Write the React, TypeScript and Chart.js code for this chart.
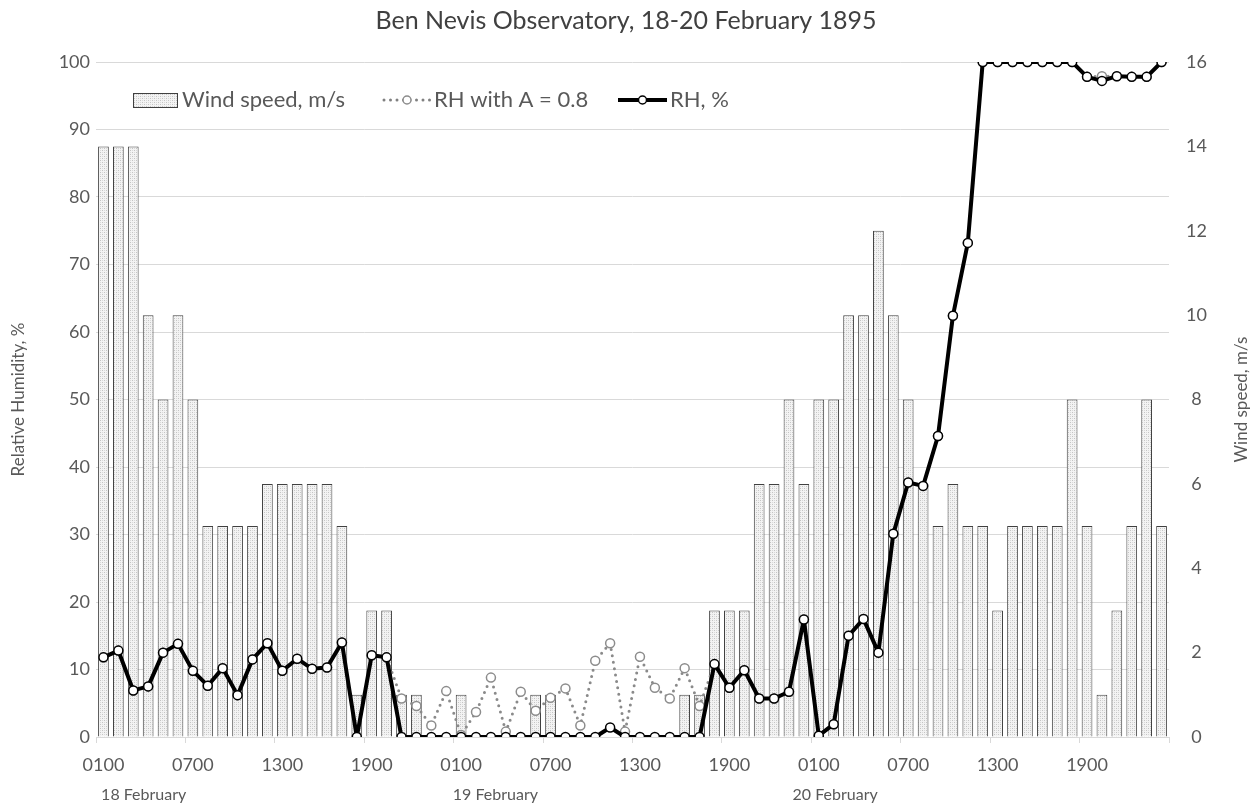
import React, { useEffect, useRef } from 'react';
import { Chart, registerables } from 'chart.js';

Chart.register(...registerables);

const TITLE = 'Ben Nevis Observatory, 18-20 February 1895';
const LEFT_TITLE = 'Relative Humidity, %';
const RIGHT_TITLE = 'Wind speed, m/s';

const HOURS = [
  '0100', '0200', '0300', '0400', '0500', '0600', '0700', '0800', '0900', '1000', '1100', '1200',
  '1300', '1400', '1500', '1600', '1700', '1800', '1900', '2000', '2100', '2200', '2300', '2400',
];
const CATEGORIES = [...HOURS, ...HOURS, ...HOURS];
const DAY_LABELS = ['18 February', '19 February', '20 February'];

const WIND_LABEL = 'Wind speed, m/s';
const RH_A_LABEL = 'RH with A = 0.8';
const RH_LABEL = 'RH, %';

// wind speed, m/s (right axis)
const WIND = [
  14, 14, 14, 10, 8, 10, 8, 5, 5, 5, 5, 6, 6, 6, 6, 6, 5, 1, 3, 3, 1, 1, 0, 0,
  1, 0, 0, 0, 0, 1, 1, 0, 0, 0, 0, 0, 0, 0, 0, 1, 1, 3, 3, 3, 6, 6, 8, 6,
  8, 8, 10, 10, 12, 10, 8, 6, 5, 6, 5, 5, 3, 5, 5, 5, 5, 8, 5, 1, 3, 5, 8, 5,
];

// relative humidity, % (left axis)
const RH = [
  11.8, 12.8, 6.9, 7.5, 12.5, 13.8, 9.8, 7.6, 10.2, 6.2, 11.5, 13.9, 9.8, 11.6, 10.1, 10.3, 14.0, 0, 12.1, 11.8, 0, 0, 0, 0,
  0, 0, 0, 0, 0, 0, 0, 0, 0, 0, 1.4, 0, 0, 0, 0, 0, 0, 10.8, 7.3, 9.9, 5.7, 5.7, 6.7, 17.4,
  0.2, 1.9, 15.0, 17.5, 12.5, 30.1, 37.7, 37.2, 44.6, 62.4, 73.2, 100, 100, 100, 100, 100, 100, 100, 97.8, 97.2, 97.9, 97.8, 97.8, 100,
];

// RH with A = 0.8 (left axis)
const RH_A = [
  11.8, 12.8, 6.9, 7.5, 12.5, 13.8, 9.8, 7.6, 10.2, 6.2, 11.5, 13.9, 9.8, 11.6, 10.1, 10.3, 14.0, 0, 12.1, 11.8, 5.7, 4.6, 1.7, 6.8,
  0.3, 3.7, 8.8, 0.8, 6.7, 3.9, 5.8, 7.2, 1.7, 11.3, 13.9, 0.8, 11.9, 7.3, 5.7, 10.2, 4.6, 10.8, 7.3, 9.9, 5.7, 5.7, 6.7, 17.4,
  0.2, 1.9, 15.0, 17.5, 12.5, 30.1, 37.7, 37.2, 44.6, 62.4, 73.2, 100, 100, 100, 100, 100, 100, 100, 97.8, 97.9, 97.9, 97.8, 97.8, 100,
];

const FONT = 'Lato';
const TEXT_COLOR = '#595959';
const GRID_COLOR = '#d9d9d9';

function makePattern(): CanvasPattern | string {
  const c = document.createElement('canvas');
  c.width = 4;
  c.height = 4;
  const g = c.getContext('2d');
  if (!g) return '#e6e6e6';
  g.fillStyle = '#f3f3f3';
  g.fillRect(0, 0, 4, 4);
  g.fillStyle = '#c4c4c4';
  g.fillRect(0, 0, 1, 1);
  g.fillRect(2, 2, 1, 1);
  g.fillStyle = '#dadada';
  g.fillRect(2, 0, 1, 1);
  g.fillRect(0, 2, 1, 1);
  return g.createPattern(c, 'repeat') || '#e6e6e6';
}

export default function App() {
  const ref = useRef<HTMLCanvasElement | null>(null);

  useEffect(() => {
    if (!ref.current) return;
    const pattern = makePattern();
    const dayAnchors = [2.7, 26.3, 49.1];

    const decor = {
      id: 'decor',
      afterDraw(chart: any) {
        const ctx = chart.ctx as CanvasRenderingContext2D;
        const area = chart.chartArea;
        const xs = chart.scales.x;
        const midY = (area.top + area.bottom) / 2;
        ctx.save();
        // title
        ctx.fillStyle = '#404040';
        ctx.font = `25px ${FONT}`;
        ctx.textAlign = 'center';
        ctx.textBaseline = 'middle';
        ctx.fillText(TITLE, chart.width / 2 - 4, 21);
        // axis titles
        ctx.fillStyle = TEXT_COLOR;
        ctx.font = `17px ${FONT}`;
        ctx.save();
        ctx.translate(19, midY);
        ctx.rotate(-Math.PI / 2);
        ctx.fillText(LEFT_TITLE, 0, 0);
        ctx.restore();
        ctx.save();
        ctx.translate(1242, midY);
        ctx.rotate(-Math.PI / 2);
        ctx.fillText(RIGHT_TITLE, 0, 0);
        ctx.restore();
        // day labels
        ctx.font = `16px ${FONT}`;
        ctx.textBaseline = 'alphabetic';
        DAY_LABELS.forEach((d, i) => {
          ctx.fillText(d, xs.getPixelForValue(dayAnchors[i]), 800);
        });
        // legend
        const ly = 100;
        ctx.textAlign = 'left';
        ctx.textBaseline = 'middle';
        ctx.font = `22px ${FONT}`;
        // bar swatch
        ctx.fillStyle = pattern as any;
        ctx.fillRect(133.5, 93.5, 44, 14);
        ctx.strokeStyle = '#404040';
        ctx.lineWidth = 1;
        ctx.strokeRect(133.5, 93.5, 44, 14);
        ctx.fillStyle = TEXT_COLOR;
        ctx.fillText(WIND_LABEL, 182, ly);
        // dotted swatch
        ctx.strokeStyle = '#808080';
        ctx.lineWidth = 3;
        ctx.lineCap = 'round';
        ctx.setLineDash([0, 6.5]);
        ctx.beginPath();
        ctx.moveTo(384, ly);
        ctx.lineTo(431, ly);
        ctx.stroke();
        ctx.setLineDash([]);
        ctx.beginPath();
        ctx.arc(407, ly, 4, 0, Math.PI * 2);
        ctx.fillStyle = '#ffffff';
        ctx.fill();
        ctx.lineWidth = 1.5;
        ctx.strokeStyle = '#8c8c8c';
        ctx.stroke();
        ctx.fillStyle = TEXT_COLOR;
        ctx.fillText(RH_A_LABEL, 434, ly);
        // solid swatch
        ctx.strokeStyle = '#000000';
        ctx.lineWidth = 4;
        ctx.lineCap = 'butt';
        ctx.beginPath();
        ctx.moveTo(618, ly);
        ctx.lineTo(667, ly);
        ctx.stroke();
        ctx.beginPath();
        ctx.arc(642.5, ly, 4, 0, Math.PI * 2);
        ctx.fillStyle = '#ffffff';
        ctx.fill();
        ctx.lineWidth = 1.5;
        ctx.strokeStyle = '#000000';
        ctx.stroke();
        ctx.fillStyle = TEXT_COLOR;
        ctx.fillText(RH_LABEL, 670, ly);
        ctx.restore();
      },
    };

    const chart = new Chart(ref.current, {
      type: 'bar',
      data: {
        labels: CATEGORIES,
        datasets: [
          {
            type: 'line',
            label: RH_LABEL,
            data: RH,
            yAxisID: 'y',
            borderColor: '#000000',
            borderWidth: 4,
            borderJoinStyle: 'round',
            pointRadius: 4.5,
            pointBackgroundColor: '#ffffff',
            pointBorderColor: '#000000',
            pointBorderWidth: 1.5,
            tension: 0,
            order: 1,
          },
          {
            type: 'line',
            label: RH_A_LABEL,
            data: RH_A,
            yAxisID: 'y',
            borderColor: '#8a8a8a',
            borderWidth: 3,
            borderDash: [0, 6.5],
            borderCapStyle: 'round',
            borderJoinStyle: 'round',
            pointRadius: 4.5,
            pointBackgroundColor: '#ffffff',
            pointBorderColor: '#8c8c8c',
            pointBorderWidth: 1.5,
            tension: 0,
            order: 2,
          },
          {
            type: 'bar',
            label: WIND_LABEL,
            data: WIND,
            yAxisID: 'y2',
            backgroundColor: pattern as any,
            borderColor: '#404040',
            borderWidth: 1,
            categoryPercentage: 1,
            barPercentage: 0.72,
            order: 3,
          },
        ] as any,
      },
      options: {
        responsive: false,
        maintainAspectRatio: false,
        animation: false,
        devicePixelRatio: 1,
        layout: { padding: { top: 62, left: 0, right: 0, bottom: 0 } },
        plugins: {
          legend: { display: false },
          title: { display: false },
          tooltip: { enabled: false },
        },
        scales: {
          x: {
            type: 'category',
            offset: true,
            grid: {
              offset: true,
              drawOnChartArea: false,
              drawTicks: true,
              tickLength: 6,
              color: (c: any) => (c.index === undefined || c.index % 6 === 0 ? GRID_COLOR : 'rgba(0,0,0,0)'),
            },
            border: { display: true, color: GRID_COLOR },
            ticks: {
              autoSkip: false,
              maxRotation: 0,
              minRotation: 0,
              padding: 11,
              color: TEXT_COLOR,
              font: { family: FONT, size: 18 },
              callback: (_v: any, i: number) => (i % 6 === 0 ? CATEGORIES[i] : ''),
            },
            afterFit: (s: any) => {
              s.height = 72;
            },
          },
          y: {
            position: 'left',
            min: 0,
            max: 100,
            grid: { color: GRID_COLOR, drawTicks: false },
            border: { display: false },
            ticks: {
              stepSize: 10,
              padding: 6,
              color: TEXT_COLOR,
              font: { family: FONT, size: 18 },
            },
            afterFit: (s: any) => {
              s.width = 96;
            },
          },
          y2: {
            position: 'right',
            min: 0,
            max: 16,
            grid: { drawOnChartArea: false, drawTicks: false },
            border: { display: false },
            ticks: {
              stepSize: 2,
              padding: 17,
              crossAlign: 'center',
              color: TEXT_COLOR,
              font: { family: FONT, size: 18 },
            },
            afterFit: (s: any) => {
              s.width = 91;
            },
          },
        },
      } as any,
      plugins: [decor],
    });

    return () => chart.destroy();
  }, []);

  return (
    <div style={{ position: 'absolute', left: 0, top: 0, width: 1260, height: 809, background: '#ffffff' }}>
      <canvas ref={ref} width={1260} height={809} style={{ display: 'block', width: 1260, height: 809 }} />
    </div>
  );
}
